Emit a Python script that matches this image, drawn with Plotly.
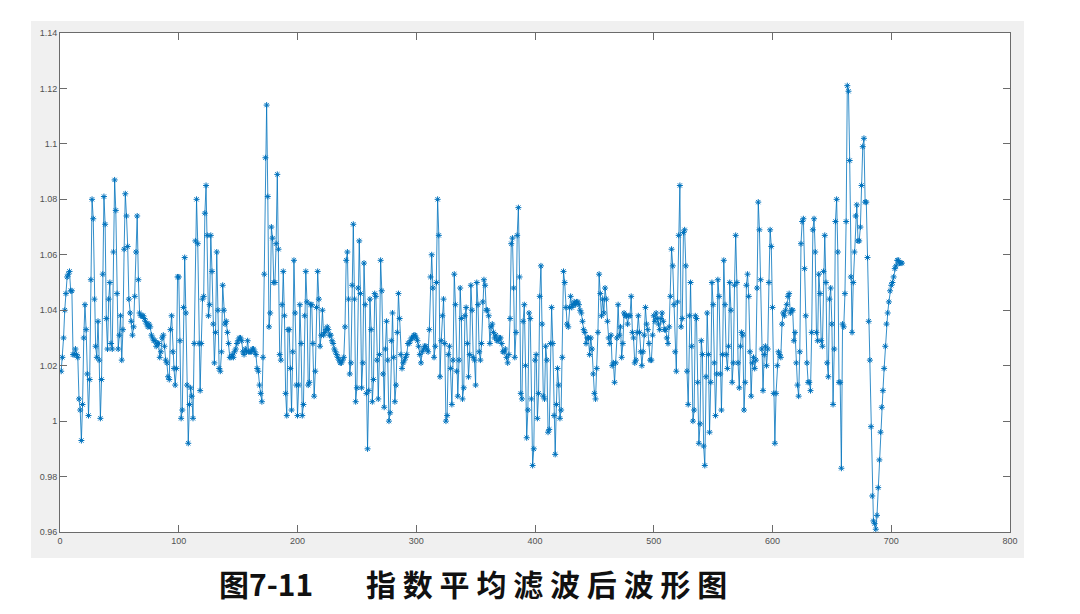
import plotly.graph_objects as go

# Filtered signal values in index order (x = 1, 2, ...)
y_001_068 = [
    1.018, 1.023, 1.030, 1.040, 1.046, 1.052, 1.053, 1.054, 1.047, 1.047,
    1.024, 1.024, 1.026, 1.024, 1.023, 1.008, 1.004, 0.993, 1.006, 1.030,
    1.042, 1.033, 1.017, 1.002, 1.015, 1.051, 1.080, 1.073, 1.044, 1.027,
    1.023, 1.036, 1.022, 1.001, 1.015, 1.053, 1.081, 1.071, 1.037, 1.026,
    1.044, 1.050, 1.028, 1.026, 1.061, 1.087, 1.076, 1.046, 1.026, 1.031,
    1.038, 1.022, 1.033, 1.062, 1.082, 1.074, 1.063, 1.044, 1.039, 1.036,
    1.031, 1.034, 1.045, 1.061, 1.074, 1.051, 1.039, 1.038,
]
y_069_118 = [
    1.038, 1.038, 1.037, 1.036, 1.035, 1.034, 1.035, 1.034, 1.031, 1.030,
    1.029, 1.029, 1.027, 1.028, 1.028, 1.023, 1.025, 1.030, 1.031, 1.027,
    1.022, 1.021, 1.016, 1.015, 1.033, 1.038, 1.025, 1.019, 1.013, 1.019,
    1.052, 1.052, 1.029, 1.001, 1.004, 1.041, 1.059, 1.039, 1.013, 0.992,
    1.006, 1.012, 1.009, 1.001, 1.028, 1.065, 1.080, 1.064, 1.028, 1.011,
]
y_119_174 = [
    1.028, 1.044, 1.045, 1.075, 1.085, 1.067, 1.038, 1.042, 1.067, 1.054,
    1.035, 1.021, 1.032, 1.061, 1.040, 1.019, 1.018, 1.025, 1.049, 1.040,
    1.035, 1.036, 1.032, 1.028, 1.023, 1.023, 1.024, 1.023, 1.025, 1.026,
    1.028, 1.029, 1.030, 1.030, 1.029, 1.025, 1.024, 1.026, 1.025, 1.029,
    1.025, 1.025, 1.025, 1.026, 1.026, 1.025, 1.024, 1.019, 1.018, 1.013,
    1.010, 1.007, 1.023, 1.053, 1.095, 1.114,
]
y_175_252 = [
    1.081, 1.034, 1.039, 1.070, 1.066, 1.050, 1.050, 1.064, 1.089, 1.062,
    1.024, 1.022, 1.042, 1.054, 1.038, 1.010, 1.002, 1.033, 1.033, 1.019,
    1.004, 1.025, 1.058, 1.039, 1.013, 1.002, 1.013, 1.042, 1.028, 1.002,
    1.006, 1.038, 1.054, 1.043, 1.013, 1.014, 1.042, 1.042, 1.028, 1.009,
    1.018, 1.041, 1.054, 1.044, 1.027, 1.031, 1.040, 1.031, 1.032, 1.033,
    1.034, 1.033, 1.031, 1.031, 1.029, 1.028, 1.026, 1.025, 1.024, 1.023,
    1.022, 1.021, 1.021, 1.022, 1.023, 1.034, 1.058, 1.061, 1.044, 1.017,
    1.021, 1.049, 1.071, 1.044, 1.007, 1.012, 1.048, 1.065,
]
y_253_388 = [
    1.046, 1.012, 1.021, 1.057, 1.042, 1.010, 0.990, 1.011, 1.044, 1.033,
    1.007, 1.015, 1.046, 1.045, 1.022, 1.008, 1.024, 1.058, 1.047, 1.017,
    1.005, 1.026, 1.036, 1.022, 1.000, 1.003, 1.029, 1.039, 1.023, 1.007,
    1.013, 1.032, 1.046, 1.037, 1.024, 1.019, 1.021, 1.022, 1.023, 1.024,
    1.028, 1.028, 1.029, 1.030, 1.030, 1.031, 1.031, 1.030, 1.029, 1.027,
    1.024, 1.021, 1.025, 1.026, 1.027, 1.027, 1.026, 1.025, 1.033, 1.052,
    1.060, 1.048, 1.023, 1.027, 1.050, 1.080, 1.067, 1.016, 1.029, 1.038,
    1.044, 1.028, 1.000, 1.002, 1.024, 1.027, 1.019, 1.006, 1.022, 1.053,
    1.042, 1.018, 1.009, 1.022, 1.048, 1.037, 1.008, 1.012, 1.038, 1.041,
    1.028, 1.016, 1.024, 1.049, 1.040, 1.023, 1.022, 1.013, 1.050, 1.042,
    1.025, 1.022, 1.028, 1.043, 1.051, 1.049, 1.040, 1.040, 1.038, 1.028,
    1.034, 1.035, 1.032, 1.030, 1.031, 1.029, 1.029, 1.030, 1.030, 1.028,
    1.025, 1.025, 1.026, 1.023, 1.021, 1.024, 1.037, 1.064, 1.066, 1.048,
    1.023, 1.032, 1.067, 1.077, 1.052, 1.010,
]
y_389_522 = [
    1.008, 1.036, 1.042, 1.020, 0.994, 1.004, 1.039, 1.037, 1.008, 0.984,
    0.990, 1.022, 1.024, 1.001, 1.010, 1.045, 1.056, 1.035, 1.009, 1.008,
    1.027, 1.022, 0.996, 0.997, 1.028, 1.041, 1.028, 1.002, 0.988, 1.006,
    1.019, 1.013, 1.001, 1.004, 1.023, 1.054, 1.050, 1.041, 1.035, 1.034,
    1.041, 1.045, 1.041, 1.042, 1.043, 1.042, 1.043, 1.043, 1.042, 1.040,
    1.039, 1.036, 1.033, 1.032, 1.028, 1.030, 1.030, 1.024, 1.030, 1.026,
    1.017, 1.010, 1.008, 1.019, 1.032, 1.053, 1.046, 1.038, 1.044, 1.039,
    1.048, 1.044, 1.036, 1.030, 1.028, 1.031, 1.020, 1.021, 1.014, 1.021,
    1.030, 1.042, 1.031, 1.034, 1.023, 1.028, 1.039, 1.038, 1.038, 1.035,
    1.038, 1.038, 1.045, 1.032, 1.030, 1.021, 1.022, 1.032, 1.038, 1.032,
    1.025, 1.020, 1.025, 1.031, 1.041, 1.035, 1.033, 1.028, 1.022, 1.022,
    1.031, 1.038, 1.036, 1.039, 1.037, 1.035, 1.033, 1.037, 1.039, 1.036,
    1.033, 1.033, 1.030, 1.028, 1.034, 1.045, 1.062, 1.056, 1.042, 1.025,
    1.018, 1.043, 1.067, 1.085,
]
y_523_658 = [
    1.034, 1.037, 1.068, 1.069, 1.056, 1.018, 1.006, 1.038, 1.050, 1.027,
    1.000, 1.004, 1.038, 1.037, 1.014, 0.992, 0.999, 1.029, 1.024, 0.991,
    0.984, 1.016, 1.039, 1.024, 0.996, 1.014, 1.050, 1.042, 1.021, 1.002,
    1.017, 1.051, 1.045, 1.017, 1.004, 1.024, 1.058, 1.042, 1.024, 1.019,
    1.027, 1.050, 1.040, 1.014, 1.021, 1.049, 1.067, 1.050, 1.021, 1.012,
    1.027, 1.032, 1.031, 1.004, 1.014, 1.049, 1.053, 1.045, 1.025, 1.009,
    1.021, 1.023, 1.019, 1.022, 1.048, 1.079, 1.069, 1.051, 1.026, 1.011,
    1.024, 1.027, 1.020, 1.026, 1.050, 1.069, 1.063, 1.041, 1.010, 0.992,
    1.010, 1.020, 1.025, 1.024, 1.023, 1.035, 1.039, 1.038, 1.040, 1.042,
    1.045, 1.046, 1.039, 1.040, 1.040, 1.029, 1.032, 1.021, 1.013, 1.009,
    1.025, 1.064, 1.072, 1.073, 1.055, 1.038, 1.021, 1.014, 1.014, 1.011,
    1.032, 1.069, 1.073, 1.061, 1.032, 1.029, 1.053, 1.046, 1.029, 1.027,
    1.054, 1.067, 1.050, 1.021, 1.016, 1.044, 1.048, 1.035, 1.006, 1.026,
    1.072, 1.080, 1.061, 1.014, 1.014, 0.983,
]
y_659_709 = [
    1.035, 1.034, 1.046, 1.072, 1.121, 1.119, 1.094, 1.052, 1.032, 1.050,
    1.061, 1.074, 1.078, 1.065, 1.065, 1.070, 1.085, 1.099, 1.102, 1.079,
    1.079, 1.059, 1.036, 1.022, 0.998, 0.973, 0.964, 0.963, 0.961, 0.966,
    0.976, 0.986, 0.996, 1.005, 1.011, 1.019, 1.027, 1.035, 1.039, 1.043,
    1.047, 1.049, 1.050, 1.052, 1.055, 1.056, 1.058, 1.058, 1.057, 1.057,
    1.057,
]

x_ticks = [0, 100, 200, 300, 400, 500, 600, 700, 800]
y_ticks = [0.96, 0.98, 1.00, 1.02, 1.04, 1.06, 1.08, 1.10, 1.12, 1.14]
y_tick_labels = ["0.96", "0.98", "1", "1.02", "1.04", "1.06", "1.08", "1.1", "1.12", "1.14"]

caption_num = "图7-11"
caption_text = "指 数 平 均 滤 波 后 波 形 图"

y = (y_001_068 + y_069_118 + y_119_174 + y_175_252
     + y_253_388 + y_389_522 + y_523_658 + y_659_709)
x = list(range(1, len(y) + 1))

fig = go.Figure()
fig.add_trace(
    go.Scatter(
        x=x,
        y=y,
        mode="lines+markers",
        line=dict(color="#0072BD", width=0.8),
        marker=dict(symbol="asterisk-open", size=5,
                    line=dict(color="#0072BD", width=1)),
        showlegend=False,
    )
)

axis_style = dict(
    showgrid=False,
    zeroline=False,
    showline=True,
    linecolor="#6b6b6b",
    linewidth=1,
    mirror="ticks",
    ticks="inside",
    ticklen=7,
    tickcolor="#6b6b6b",
    tickfont=dict(family="Liberation Sans, Arial", size=9, color="#505050"),
)

fig.update_xaxes(range=[0, 800], tickvals=x_ticks, **axis_style)
fig.update_yaxes(range=[0.96, 1.14], tickvals=y_ticks, ticktext=y_tick_labels, **axis_style)

# MATLAB-like grey figure window, with the white axes box on top of it
fig.add_shape(
    type="rect", xref="paper", yref="paper",
    x0=-0.0305, x1=1.0147, y0=-0.052, y1=1.024,
    fillcolor="#F0F0F0", line=dict(width=0), layer="below",
)
fig.add_shape(
    type="rect", xref="paper", yref="paper",
    x0=0, x1=1, y0=0, y1=1,
    fillcolor="white", line=dict(width=0), layer="below",
)

caption_font = dict(family="Noto Sans CJK SC", size=30, color="#111111", weight="bold")
fig.add_annotation(
    text=caption_num, xref="paper", yref="paper", x=0.217, y=-0.103,
    xanchor="center", yanchor="middle", showarrow=False, font=caption_font,
)
fig.add_annotation(
    text=caption_text, xref="paper", yref="paper", x=0.512, y=-0.103,
    xanchor="center", yanchor="middle", showarrow=False, font=caption_font,
)

fig.update_layout(
    width=1080,
    height=614,
    margin=dict(l=52, r=78, t=25, b=90),
    paper_bgcolor="white",
    plot_bgcolor="white",
)

fig.write_html("out.html")
